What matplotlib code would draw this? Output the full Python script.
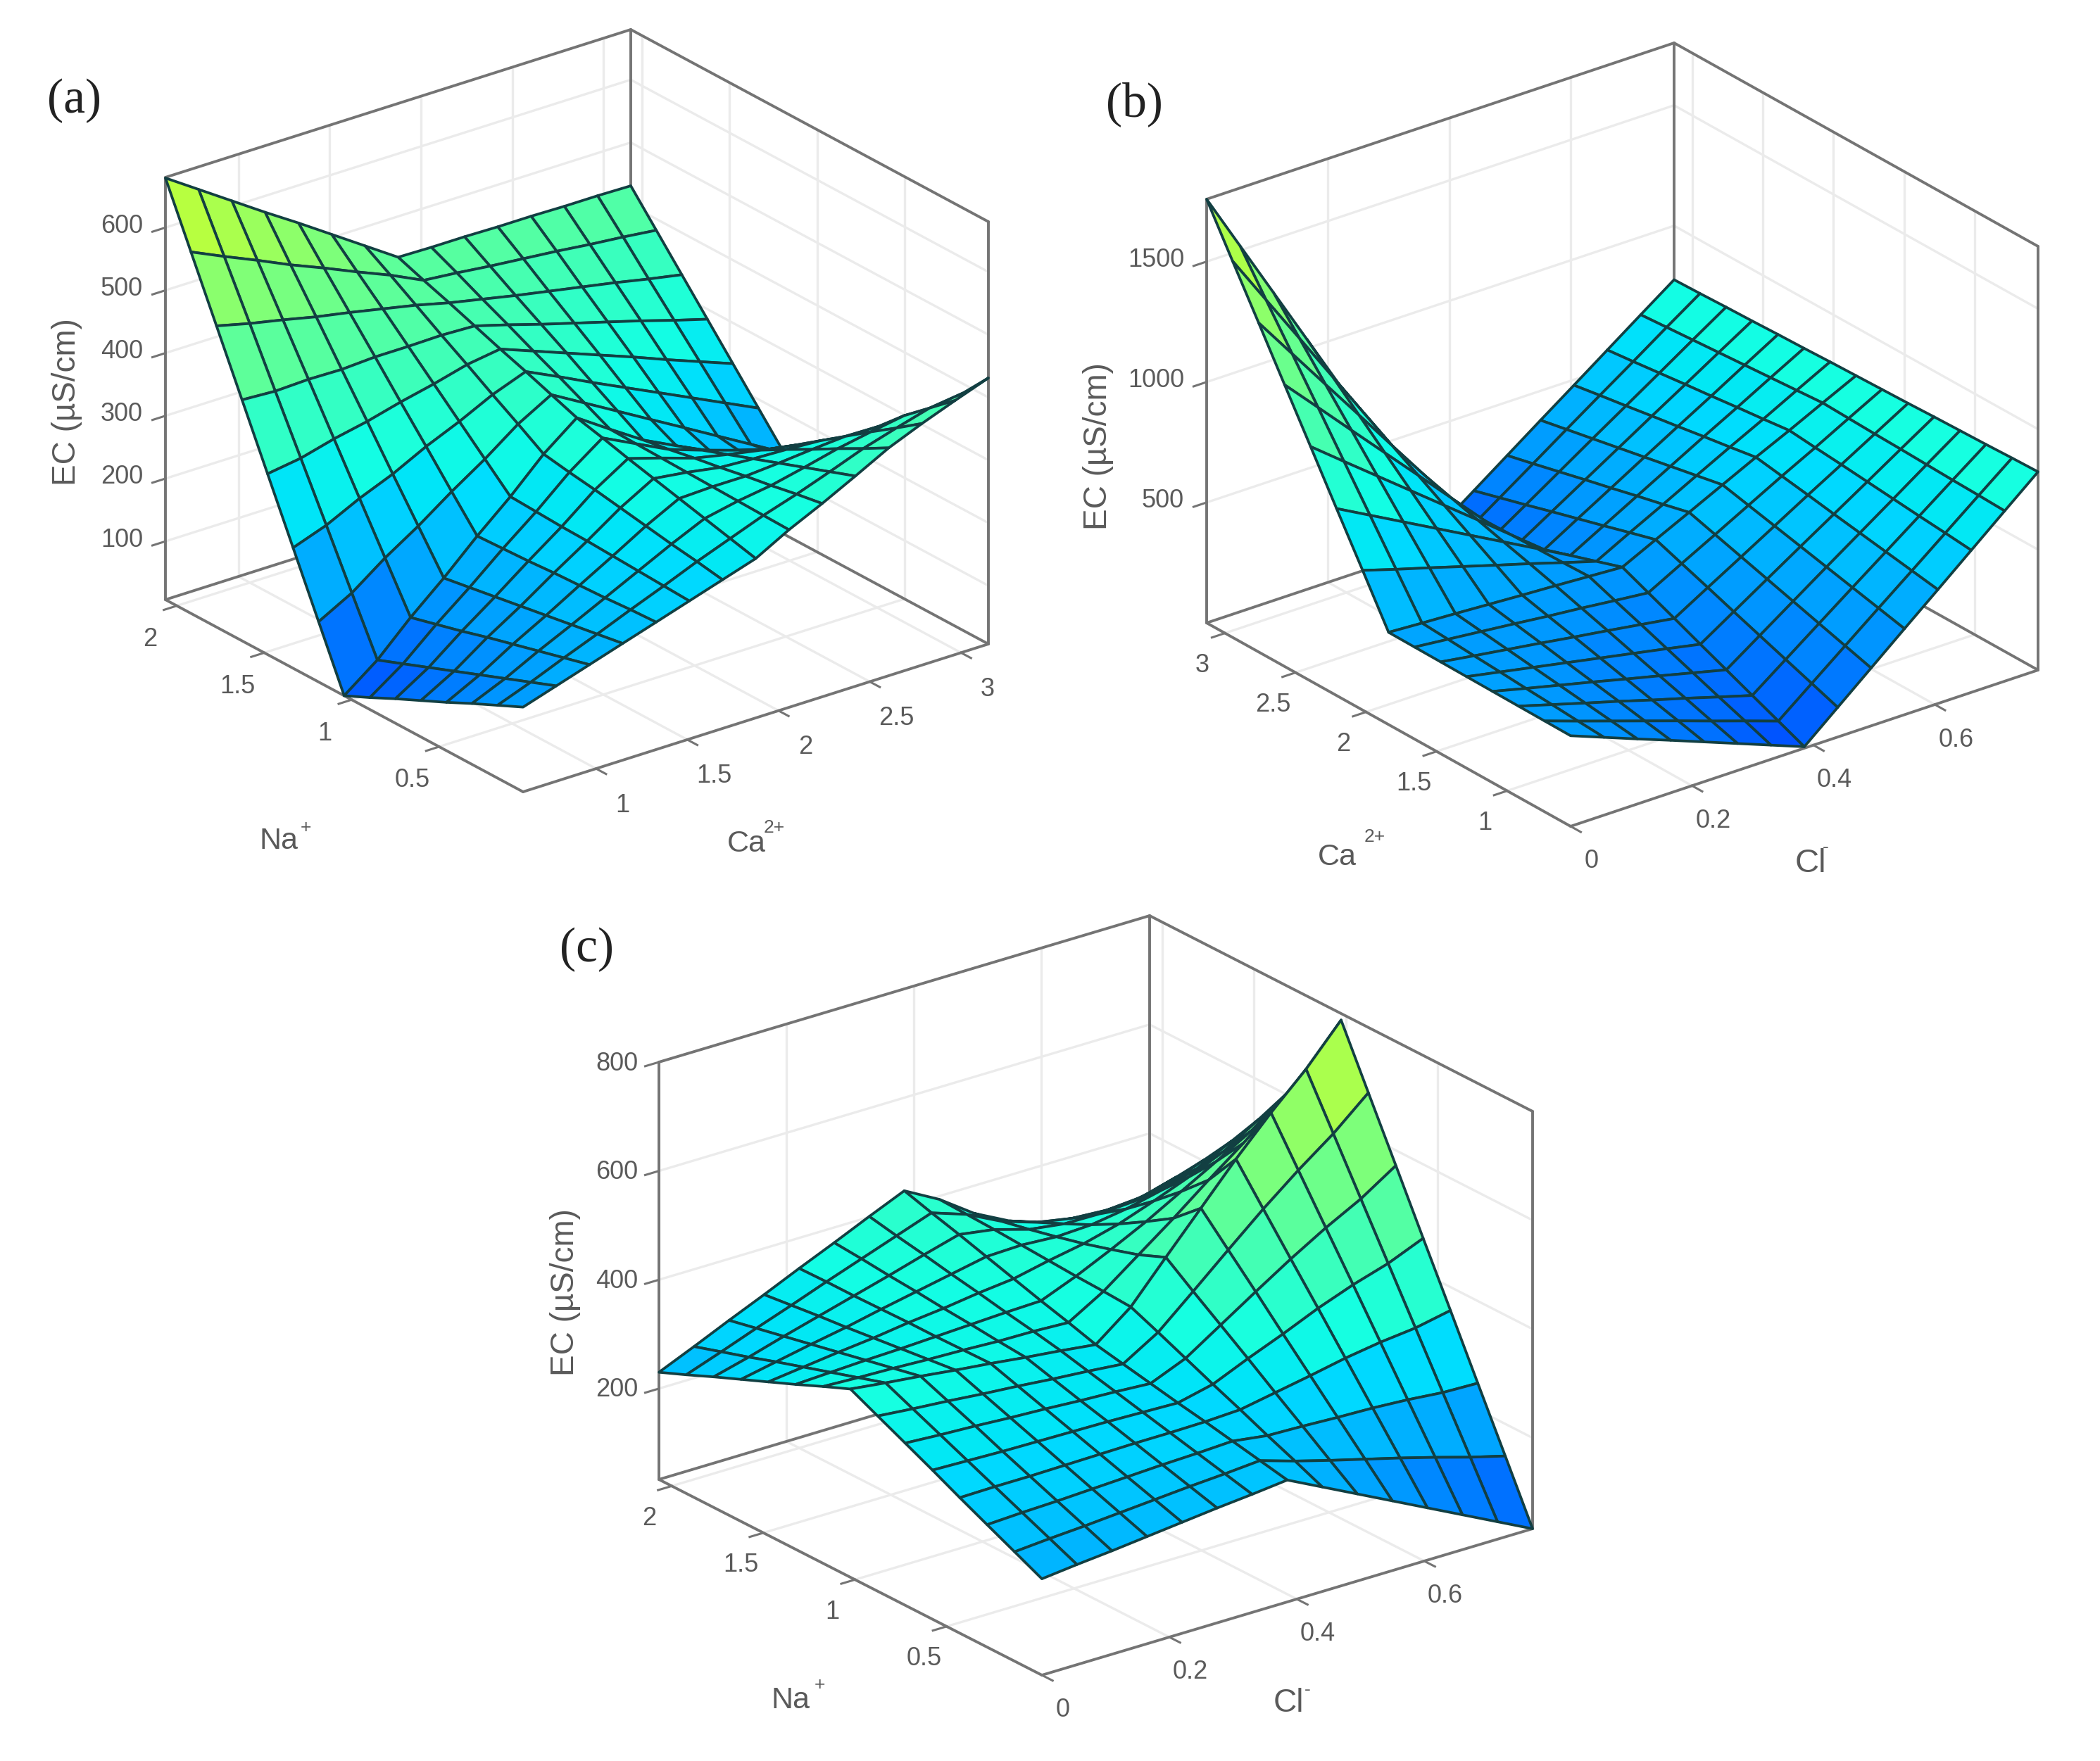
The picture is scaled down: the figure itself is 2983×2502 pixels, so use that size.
import numpy as np
import matplotlib
matplotlib.use('Agg')
import matplotlib.pyplot as plt
from matplotlib.colors import ListedColormap
from mpl_toolkits.mplot3d import proj3d

# grid of the fuzzy surfaces, 15 points per input
ca_a = [0.6, 0.782, 0.964, 1.146, 1.329, 1.511, 1.693, 1.875, 2.057, 2.239, 2.421, 2.604, 2.786, 2.968, 3.15]
na_a = [0.02, 0.166, 0.312, 0.458, 0.604, 0.75, 0.896, 1.043, 1.189, 1.335, 1.481, 1.627, 1.773, 1.919, 2.065]
cl_b = [0, 0.055, 0.11, 0.165, 0.22, 0.275, 0.33, 0.385, 0.44, 0.495, 0.55, 0.605, 0.66, 0.715, 0.77]
ca_b = [0.55, 0.734, 0.919, 1.103, 1.287, 1.471, 1.656, 1.84, 2.024, 2.209, 2.393, 2.577, 2.761, 2.946, 3.13]
cl_c = [0, 0.055, 0.11, 0.165, 0.22, 0.275, 0.33, 0.385, 0.44, 0.495, 0.55, 0.605, 0.66, 0.715, 0.77]
na_c = [-0.02, 0.129, 0.279, 0.428, 0.577, 0.726, 0.876, 1.025, 1.174, 1.324, 1.473, 1.622, 1.771, 1.921, 2.07]

# EC values, one row per y grid point
ec_a = [
    [142, 159, 176, 193, 210, 227, 244, 261, 290, 315, 342, 370, 392, 412, 431],
    [123, 143, 165, 186, 208, 229, 251, 271, 291, 308, 327, 347, 363, 378, 385],
    [104, 127, 154, 179, 205, 231, 257, 281, 292, 300, 312, 325, 335, 344, 340],
    [84, 111, 143, 172, 203, 233, 264, 291, 293, 293, 297, 302, 306, 305, 297],
    [65, 95, 132, 165, 201, 235, 271, 301, 294, 285, 282, 280, 277, 268, 258],
    [46, 79, 120, 158, 198, 236, 278, 311, 295, 278, 267, 257, 248, 235, 224],
    [26, 63, 109, 151, 196, 238, 284, 322, 296, 270, 252, 235, 220, 205, 190],
    [7, 47, 98, 144, 194, 240, 291, 332, 297, 263, 237, 212, 191, 175, 164],
    [103, 132, 171, 205, 243, 278, 317, 347, 317, 287, 257, 227, 197, 167, 137],
    [199, 218, 244, 266, 293, 316, 342, 362, 337, 311, 286, 261, 236, 211, 186],
    [295, 303, 317, 328, 342, 354, 368, 376, 356, 336, 316, 296, 275, 255, 235],
    [391, 388, 390, 389, 392, 392, 393, 391, 376, 360, 345, 330, 315, 299, 284],
    [487, 474, 463, 451, 441, 430, 419, 406, 395, 384, 374, 364, 354, 343, 333],
    [583, 559, 536, 512, 490, 467, 445, 420, 415, 409, 404, 399, 393, 388, 382],
    [679, 644, 609, 574, 540, 505, 470, 435, 434, 434, 433, 433, 432, 432, 431],
]
ec_b = [
    [376, 323, 270, 218, 165, 112, 59, 6, 123, 240, 357, 473, 590, 707, 823],
    [377, 330, 284, 238, 192, 145, 99, 52, 162, 272, 382, 491, 601, 711, 820],
    [378, 338, 298, 259, 218, 179, 138, 98, 201, 304, 407, 509, 611, 714, 816],
    [379, 345, 312, 279, 245, 212, 178, 144, 240, 336, 432, 527, 622, 718, 813],
    [380, 353, 326, 299, 272, 245, 218, 190, 279, 368, 457, 545, 633, 722, 810],
    [381, 360, 340, 320, 299, 279, 258, 237, 319, 400, 482, 564, 644, 725, 806],
    [382, 368, 354, 340, 325, 312, 297, 283, 358, 432, 507, 582, 654, 729, 803],
    [383, 375, 368, 360, 352, 345, 337, 329, 397, 464, 532, 600, 665, 733, 800],
    [580, 538, 498, 457, 416, 376, 334, 293, 366, 437, 510, 582, 652, 725, 797],
    [776, 702, 628, 554, 480, 406, 332, 257, 334, 411, 488, 565, 640, 717, 793],
    [973, 865, 758, 651, 544, 437, 329, 221, 303, 384, 466, 547, 627, 709, 790],
    [1169, 1029, 888, 748, 608, 467, 327, 186, 272, 358, 444, 530, 615, 701, 786],
    [1366, 1192, 1018, 845, 671, 498, 324, 150, 240, 331, 422, 512, 602, 693, 783],
    [1562, 1355, 1149, 942, 735, 528, 321, 114, 209, 304, 400, 495, 589, 685, 779],
    [1759, 1519, 1279, 1039, 799, 559, 319, 78, 178, 278, 378, 477, 577, 677, 776],
]
ec_c = [
    [210, 217, 223, 230, 237, 244, 250, 257, 225, 193, 161, 129, 97, 65, 33],
    [234, 239, 243, 248, 253, 258, 262, 267, 247, 229, 212, 195, 177, 158, 141],
    [258, 261, 263, 266, 269, 272, 274, 277, 268, 266, 263, 261, 257, 251, 249],
    [282, 283, 283, 284, 285, 286, 286, 287, 290, 302, 314, 327, 337, 344, 357],
    [307, 305, 303, 302, 301, 300, 298, 296, 311, 339, 365, 393, 417, 437, 464],
    [331, 327, 324, 320, 317, 313, 310, 306, 333, 375, 417, 458, 496, 530, 572],
    [355, 349, 344, 338, 333, 327, 322, 316, 355, 411, 468, 524, 576, 624, 680],
    [379, 371, 364, 356, 349, 341, 334, 326, 376, 448, 519, 590, 656, 717, 788],
    [358, 355, 353, 350, 348, 345, 344, 341, 379, 427, 475, 526, 575, 623, 681],
    [336, 339, 342, 344, 347, 350, 353, 355, 381, 411, 443, 479, 515, 552, 601],
    [315, 323, 331, 338, 347, 354, 363, 370, 384, 396, 413, 436, 461, 489, 529],
    [294, 307, 320, 332, 346, 359, 372, 385, 387, 383, 386, 396, 411, 431, 463],
    [273, 290, 309, 327, 345, 363, 382, 400, 390, 371, 362, 361, 365, 378, 403],
    [251, 274, 298, 321, 345, 368, 391, 414, 392, 360, 339, 327, 323, 328, 346],
    [230, 258, 287, 315, 344, 372, 401, 429, 394, 349, 316, 294, 281, 279, 291],
]

# tick values and limits
ca_ticks = [1, 1.5, 2, 2.5, 3]
ca_labels = ['1', '1.5', '2', '2.5', '3']
na_ticks = [0.5, 1, 1.5, 2]
na_labels = ['0.5', '1', '1.5', '2']
cl_ticks = [0, 0.2, 0.4, 0.6]
cl_labels = ['0', '0.2', '0.4', '0.6']
z_ticks_a = [100, 200, 300, 400, 500, 600]
z_ticks_b = [500, 1000, 1500]
z_ticks_c = [200, 400, 600, 800]

W_PX, H_PX = 2983, 2502
BOX = '#747474'
GRID = '#ebebeb'
TEXT = '#5a5a5a'
EDGE = '#123f42'

plt.rcParams['font.family'] = ['Liberation Sans', 'DejaVu Sans']

fig = plt.figure(figsize=(W_PX / 100, H_PX / 100), dpi=100)
jet_part = ListedColormap(plt.cm.jet(np.linspace(0.2, 0.61, 128)))


def px(x, y):
    return x / W_PX, 1 - y / H_PX


def make_axes(front, left_bot, right_bot, left_top):
    # find the view and box lengths that put the box corners on these pixels
    ux, vx = right_bot[0] - front[0], front[1] - right_bot[1]
    uy, vy = front[0] - left_bot[0], front[1] - left_bot[1]
    vz = left_bot[1] - left_top[1]
    r1, r2 = vx / ux, vy / uy
    sin_e = np.sqrt(r1 * r2)
    elev = np.arcsin(sin_e)
    ang = np.arctan(r2 / sin_e)
    lx = ux / np.sin(ang)
    ly = uy / np.cos(ang)
    lz = vz / np.cos(elev)
    size = 1.85 * np.sqrt(lx**2 + ly**2 + lz**2) / 1.9057
    cu = (left_bot[0] + right_bot[0]) / 2
    cv = (left_bot[1] + right_bot[1] - vz) / 2
    left = cu - size * 0.095 / 0.185
    bottom = H_PX - cv - size * 0.095 / 0.185
    ax = fig.add_axes([left / W_PX, bottom / H_PX, size / W_PX, size / H_PX],
                      projection='3d', proj_type='ortho', computed_zorder=False)
    ax.view_init(elev=np.degrees(elev), azim=-180 + np.degrees(ang))
    ax.set_box_aspect((lx, ly, lz))
    ax.set_axis_off()
    ax.patch.set_visible(False)
    return ax


def draw_panel(ax, xs, ys, zs, xlim, ylim, zlim, xticks, xlabels, yticks, ylabels, zticks,
               xtick_off, ytick_off, ztick_off):
    x0, x1 = xlim
    y0, y1 = ylim
    z0, z1 = zlim
    # grid on floor and walls
    for t in xticks:
        ax.plot([t, t], [y0, y1], [z0, z0], color=GRID, lw=2.4, zorder=1)
        ax.plot([t, t], [y1, y1], [z0, z1], color=GRID, lw=2.4, zorder=1)
    for t in yticks:
        ax.plot([x0, x1], [t, t], [z0, z0], color=GRID, lw=2.4, zorder=1)
        ax.plot([x1, x1], [t, t], [z0, z1], color=GRID, lw=2.4, zorder=1)
    for t in zticks:
        ax.plot([x0, x1], [y1, y1], [t, t], color=GRID, lw=2.4, zorder=1)
        ax.plot([x1, x1], [y0, y1], [t, t], color=GRID, lw=2.4, zorder=1)
    # box
    edges = [
        ([x0, x1], [y0, y0], [z0, z0]), ([x0, x0], [y0, y1], [z0, z0]),
        ([x0, x1], [y1, y1], [z0, z0]), ([x1, x1], [y0, y1], [z0, z0]),
        ([x0, x1], [y1, y1], [z1, z1]), ([x1, x1], [y0, y1], [z1, z1]),
        ([x0, x0], [y1, y1], [z0, z1]), ([x1, x1], [y1, y1], [z0, z1]),
        ([x1, x1], [y0, y0], [z0, z1]),
    ]
    for ex, ey, ez in edges:
        ax.plot(ex, ey, ez, color=BOX, lw=2.8, zorder=2, solid_capstyle='round')
    # ticks stick out of the box
    tx = 0.028 * (x1 - x0)
    ty = 0.028 * (y1 - y0)
    for t in xticks:
        ax.plot([t, t], [y0, y0 - ty], [z0, z0], color=BOX, lw=2.2, zorder=2)
    for t in yticks:
        ax.plot([x0, x0 - tx], [t, t], [z0, z0], color=BOX, lw=2.2, zorder=2)
    for t in zticks:
        ax.plot([x0, x0 - tx], [y1, y1], [t, t], color=BOX, lw=2.2, zorder=2)

    X, Y = np.meshgrid(xs, ys)
    Z = np.array(zs, dtype=float)
    ax.plot_surface(X, Y, Z, cmap=jet_part, vmin=z0, vmax=z1, rstride=1, cstride=1,
                    edgecolor=EDGE, linewidth=2.7, antialiased=True, shade=False, zorder=3)
    ax.set_xlim(x0, x1)
    ax.set_ylim(y0, y1)
    ax.set_zlim(z0, z1)

    # tick labels, put on the projected tick position
    M = ax.get_proj()
    for t, s in zip(xticks, xlabels):
        u, v, _ = proj3d.proj_transform(t, y0, z0, M)
        ax.annotate(s, (u, v), xytext=xtick_off, textcoords='offset pixels', ha='center',
                    va='center', fontsize=26, color=TEXT)
    for t, s in zip(yticks, ylabels):
        u, v, _ = proj3d.proj_transform(x0, t, z0, M)
        ax.annotate(s, (u, v), xytext=ytick_off, textcoords='offset pixels', ha='center',
                    va='center', fontsize=26, color=TEXT)
    for t in zticks:
        u, v, _ = proj3d.proj_transform(x0, y1, t, M)
        ax.annotate(str(t), (u, v), xytext=ztick_off, textcoords='offset pixels', ha='right',
                    va='center', fontsize=26, color=TEXT)


# panel (a): x = Ca, y = Na
ax_a = make_axes((743, 1125), (235, 852), (1404, 915), (235, 252))
draw_panel(ax_a, ca_a, na_a, ec_a, (0.6, 3.15), (0.02, 2.065), (7, 680),
           ca_ticks, ca_labels, na_ticks, na_labels, z_ticks_a, (38, -52), (-38, -48), (-32, 2))

# panel (b): x = Cl, y = Ca
ax_b = make_axes((2231, 1174), (1714, 885), (2895, 952), (1714, 283))
draw_panel(ax_b, cl_b, ca_b, ec_b, (0, 0.77), (0.55, 3.13), (0, 1759),
           cl_ticks, cl_labels, ca_ticks, ca_labels, z_ticks_b, (30, -50), (-32, -46), (-32, 2))

# panel (c): x = Cl, y = Na
ax_c = make_axes((1480, 2380), (936, 2102), (2177, 2172), (936, 1509))
draw_panel(ax_c, cl_c, na_c, ec_c, (0, 0.77), (-0.02, 2.07), (33, 800),
           cl_ticks, cl_labels, na_ticks, na_labels, z_ticks_c, (30, -50), (-32, -46), (-30, -2))

# panel letters and axis titles
for s, x, y in [('(a)', 105, 143), ('(b)', 1611, 148), ('(c)', 833, 1349)]:
    fig.text(*px(x, y), s, family='Liberation Serif', fontsize=50, color='#222222',
             ha='center', va='center')
for x, y in [(95, 571), (1560, 634), (803, 1836)]:
    fig.text(*px(x, y), 'EC (µS/cm)', fontsize=33, color=TEXT, rotation=90,
             ha='center', va='center')
axis_titles = [
    ('Na', 396, 1195, 31, '+', 434, 1176), ('Ca', 1060, 1199, 31, '2+', 1100, 1176),
    ('Ca', 1899, 1218, 31, '2+', 1953, 1189), ('Cl', 2572, 1227, 34, '-', 2593, 1204),
    ('Na', 1123, 2416, 31, '+', 1164, 2394), ('Cl', 1830, 2420, 33, '-', 1857, 2401),
]
for s, x, y, fs, sup, sx, sy in axis_titles:
    fig.text(*px(x, y), s, fontsize=fs, color=TEXT, ha='center', va='center')
    fig.text(*px(sx, sy), sup, fontsize=19, color=TEXT, ha='center', va='center')

fig.savefig('out.png', dpi=100)
